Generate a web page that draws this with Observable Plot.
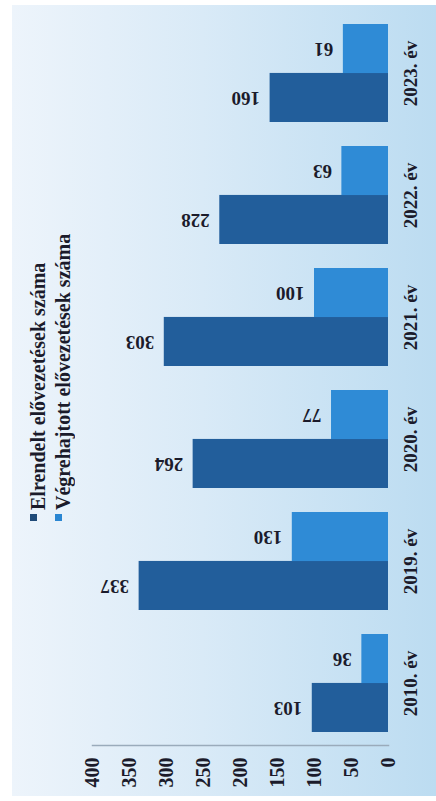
<!DOCTYPE html>
<html><head><meta charset="utf-8">
<script src="https://cdn.jsdelivr.net/npm/d3@7"></script>
<script src="https://cdn.jsdelivr.net/npm/@observablehq/plot@0.6"></script>
<style>
body{margin:0;background:#fff;}
#wrap{position:relative;width:436px;height:801px;overflow:hidden;}
#panel{position:absolute;left:12px;top:5px;right:0;bottom:5px;background:linear-gradient(to right,#edf4fb 0%,#d9eaf7 45%,#bcdcf1 100%);}
#chart{position:absolute;left:0;top:0;}
#legend{position:absolute;left:26px;top:190px;width:50px;height:331px;writing-mode:vertical-rl;transform:rotate(180deg);font:bold 20px "Liberation Serif",serif;line-height:25px;color:#1b1b2b;white-space:nowrap;}
#legend div{display:block;}
.sw{display:inline-block;width:7px;height:7px;margin-bottom:4px;vertical-align:middle;}
</style>
</head><body>
<div id="wrap"><div id="panel"></div><div id="chart"></div><div id="legend"></div></div>
<script>
const years = ["2010. év","2019. év","2020. év","2021. év","2022. év","2023. év"];
const ordered = [103,337,264,303,228,160];
const executed = [36,130,77,100,63,61];
const seriesNames = ["Elrendelt elővezetések száma","Végrehajtott elővezetések száma"];
const seriesColors = ["#225e9b","#2f8bd6"];
const xTicks = [0,50,100,150,200,250,300,350,400];

const W = 436, H = 801, mt = 11, mb = 56;
const bw = (H - mt - mb) / 6 * 0.8;
const half = bw / 2;

const darkData = years.map((y,i)=>({year:y, series:seriesNames[0], value:ordered[i]}));
const lightData = years.map((y,i)=>({year:y, series:seriesNames[1], value:executed[i]}));

const chart = Plot.plot({
  width: W, height: H,
  marginTop: mt, marginBottom: mb, marginLeft: 92, marginRight: 48,
  style: {background:"transparent", fontFamily:"'Liberation Serif', serif", fontWeight:"bold", fontSize:"19px", color:"#1b1b2b"},
  x: {domain:[0,400], reverse:true, axis:null},
  y: {domain: years.slice().reverse(), paddingInner:0.2, paddingOuter:0.1, axis:null},
  marks: [
    Plot.frame({anchor:"bottom", stroke:"#9aabbb", strokeWidth:1.5}),
    Plot.barX(darkData, {x:"value", y:"year", fill:seriesColors[0], insetTop:half}),
    Plot.barX(lightData, {x:"value", y:"year", fill:seriesColors[1], insetBottom:half}),
    Plot.text(darkData, {x:"value", y:"year", text:d=>String(d.value), rotate:180, textAnchor:"start", lineAnchor:"middle", dx:-10, dy:half/2, fill:"#1b1b2b"}),
    Plot.text(lightData, {x:"value", y:"year", text:d=>String(d.value), rotate:180, textAnchor:"start", lineAnchor:"middle", dx:-10, dy:-half/2, fill:"#1b1b2b"}),
    Plot.axisX({ticks:xTicks, tickFormat:d=>String(d), anchor:"bottom", tickRotate:-90, tickSize:0, tickPadding:12, label:null, fontSize:20}),
    Plot.axisY({anchor:"right", tickRotate:-90, tickSize:0, tickPadding:28, label:null})
  ]
});
document.getElementById("chart").appendChild(chart);

const leg = document.getElementById("legend");
seriesNames.forEach((n,i)=>{
  const d = document.createElement("div");
  const s = document.createElement("span");
  s.className = "sw"; s.style.background = i===0 ? "#1f4a78" : "#2a86d2";
  d.appendChild(s);
  d.appendChild(document.createTextNode(n));
  leg.appendChild(d);
});
</script>
</body></html>
